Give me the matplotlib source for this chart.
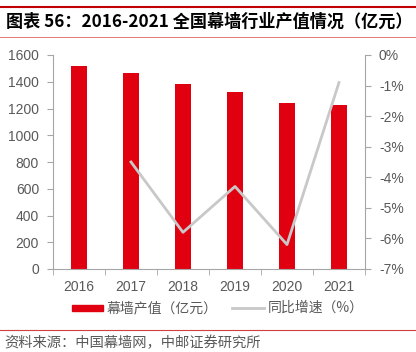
import matplotlib
matplotlib.use("Agg")
import matplotlib.pyplot as plt
from matplotlib.patches import Rectangle
from matplotlib.lines import Line2D
from matplotlib.ticker import FuncFormatter

years = ["2016", "2017", "2018", "2019", "2020", "2021"]
output_value = [1520, 1465, 1381, 1321, 1239, 1226]
growth = [None, -3.5, -5.8, -4.3, -6.2, -0.9]
left_ticks = [0, 200, 400, 600, 800, 1000, 1200, 1400, 1600]
right_ticks = [0, -1, -2, -3, -4, -5, -6, -7]

plt.rcParams['font.family'] = ['Liberation Sans', 'Noto Sans CJK SC', 'DejaVu Sans']

RED = "#E0000F"
GREY = "#C8C8C8"
TXT = "#595959"
SPINE = "#A6A6A6"

W, H = 416, 352
fig = plt.figure(figsize=(W/100, H/100), dpi=100)
ax = fig.add_axes([53/W, 1-269/H, 312/W, 214/H])
x = list(range(len(years)))
ax.bar(x, output_value, width=0.31, color=RED, zorder=2)
ax.set_xlim(-0.5, len(years)-0.5)
ax.set_ylim(0, 1600)
ax.set_yticks(left_ticks)
ax.set_xticks(x)
ax.set_xticklabels(years)
ax.set_xticks([i-0.5 for i in range(len(years)+1)], minor=True)
ax.tick_params(axis='x', which='major', length=0, labelsize=10, colors=TXT, pad=8)
ax.tick_params(axis='x', which='minor', length=4, color=SPINE, direction='out')
ax.tick_params(axis='y', length=4, color=SPINE, labelsize=10, labelcolor=TXT, pad=6)
for s in ['top', 'right']:
    ax.spines[s].set_visible(False)
for s in ['left', 'bottom']:
    ax.spines[s].set_color(SPINE)

ax2 = ax.twinx()
gx = [i for i, g in zip(x, growth) if g is not None]
gy = [g for g in growth if g is not None]
ax2.plot(gx, gy, color=GREY, lw=2, zorder=3)
ax2.set_ylim(-7, 0)
ax2.set_yticks(right_ticks)
ax2.yaxis.set_major_formatter(FuncFormatter(lambda v, p: f"{int(round(v))}%"))
ax2.tick_params(axis='y', length=4, color=SPINE, labelsize=10, labelcolor=TXT, pad=6)
for s in ['top', 'left', 'bottom']:
    ax2.spines[s].set_visible(False)
ax2.spines['right'].set_color(SPINE)

# title and rules
fig.add_artist(Line2D([0, 1], [1-7/H, 1-7/H], color="#C00000", lw=1.5))
fig.add_artist(Line2D([0, 1], [1-37/H, 1-37/H], color="#E06060", lw=0.6))
fig.text(6/W, 1-22/H, "图表 56：2016-2021 全国幕墙行业产值情况（亿元）",
         fontsize=12.3, fontweight='bold', va='center', ha='left',
         family=['Noto Sans CJK SC', 'DejaVu Sans'], color="#000000")

# legend
ly = 1-308/H
fig.add_artist(Rectangle((72/W, ly-3/H), 31/W, 6/H, color=RED))
fig.text(107/W, ly, "幕墙产值（亿元）", fontsize=10, va='center', ha='left',
         color=TXT, family=['Noto Sans CJK SC', 'DejaVu Sans'])
fig.add_artist(Line2D([232/W, 264/W], [ly, ly], color=GREY, lw=2))
fig.text(268/W, ly, "同比增速（%）", fontsize=10, va='center', ha='left',
         color=TXT, family=['Noto Sans CJK SC', 'DejaVu Sans'])

# source
fig.add_artist(Line2D([0, 1], [1-330/H, 1-330/H], color="#D04040", lw=0.8))
fig.text(4/W, 1-343/H, "资料来源：中国幕墙网，中邮证券研究所", fontsize=10.3,
         va='center', ha='left', color=TXT, family=['Noto Sans CJK SC', 'DejaVu Sans'])

fig.savefig("out.png", dpi=100)
